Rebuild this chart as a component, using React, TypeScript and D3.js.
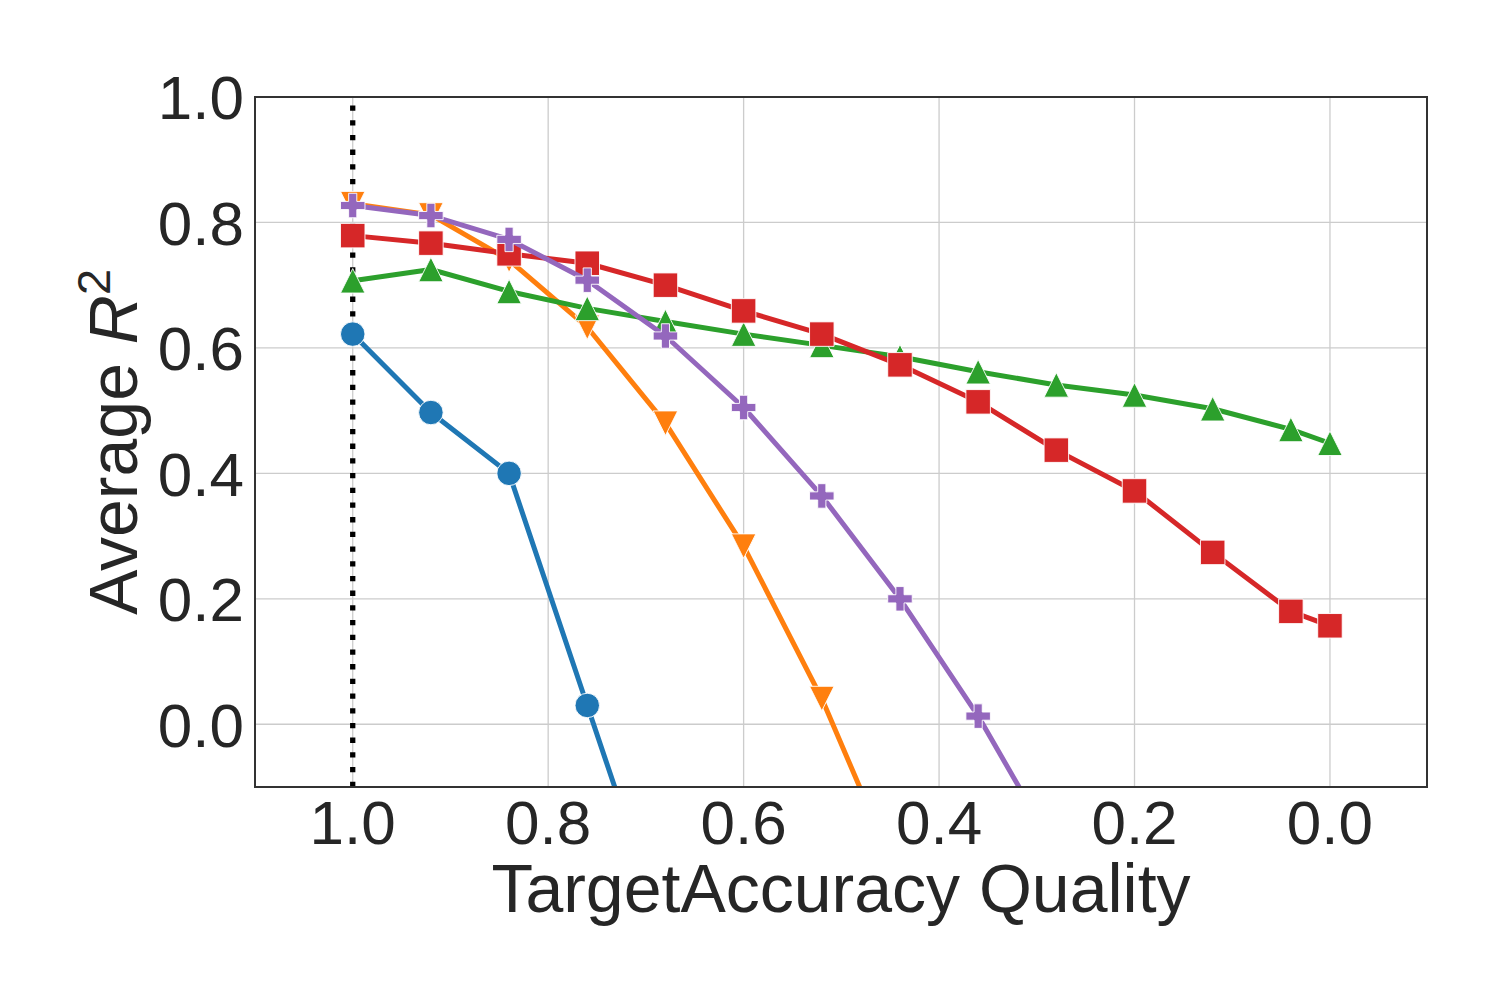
import React from "react";
import * as d3 from "d3";

const xValues = [1.0, 0.92, 0.84, 0.76, 0.68, 0.6, 0.52, 0.44, 0.36, 0.28, 0.2, 0.12, 0.04, 0.0];
const blueValues = [0.622, 0.497, 0.4, 0.03, -0.34];
const orangeValues = [0.83, 0.812, 0.74, 0.633, 0.48, 0.284, 0.041, -0.25];
const greenValues = [0.707, 0.725, 0.69, 0.663, 0.642, 0.622, 0.604, 0.586, 0.562, 0.541, 0.525, 0.503, 0.47, 0.448];
const redValues = [0.779, 0.767, 0.75, 0.735, 0.7, 0.659, 0.622, 0.573, 0.514, 0.437, 0.372, 0.274, 0.18, 0.157];
const purpleValues = [0.827, 0.811, 0.773, 0.708, 0.619, 0.505, 0.364, 0.2, 0.013, -0.203];

const xTicks = [1.0, 0.8, 0.6, 0.4, 0.2, 0.0];
const yTicks = [0.0, 0.2, 0.4, 0.6, 0.8, 1.0];
const refLineX = 1.0;

const series = [
  { name: "blue", values: blueValues, color: "#1f77b4", marker: "circle" },
  { name: "orange", values: orangeValues, color: "#ff7f0e", marker: "triangleDown" },
  { name: "green", values: greenValues, color: "#2ca02c", marker: "triangleUp" },
  { name: "red", values: redValues, color: "#d62728", marker: "square" },
  { name: "purple", values: purpleValues, color: "#9467bd", marker: "plus" },
];

const W = 1500;
const H = 1000;
const left = 255;
const right = 1427;
const top = 97;
const bottom = 787;

const FONT = "'Liberation Sans', Arial, Helvetica, sans-serif";
const TEXT = "#262626";

function markerPath(kind: string, s: number): string {
  const h = s / 2;
  switch (kind) {
    case "circle":
      return `M${h},0A${h},${h} 0 1,1 ${-h},0A${h},${h} 0 1,1 ${h},0Z`;
    case "square":
      return `M${-h},${-h}H${h}V${h}H${-h}Z`;
    case "triangleUp":
      return `M0,${-h}L${h},${h}L${-h},${h}Z`;
    case "triangleDown":
      return `M0,${h}L${h},${-h}L${-h},${-h}Z`;
    case "plus": {
      const a = s / 6;
      return `M${-a},${-h}H${a}V${-a}H${h}V${a}H${a}V${h}H${-a}V${a}H${-h}V${-a}H${-a}Z`;
    }
  }
  return "";
}

export default function App() {
  const x = d3.scaleLinear().domain([1.1, -0.0993]).range([left, right]);
  const y = d3.scaleLinear().domain([-0.1, 1.0]).range([bottom, top]);
  const line = d3
    .line<[number, number]>()
    .x((d) => x(d[0]))
    .y((d) => y(d[1]));

  return (
    <svg
      width={W}
      height={H}
      viewBox={`0 0 ${W} ${H}`}
      style={{ position: "absolute", left: 0, top: 0, background: "#fff" }}
    >
      <defs>
        <clipPath id="plotClip">
          <rect x={left} y={top} width={right - left} height={bottom - top} />
        </clipPath>
      </defs>
      <rect x={0} y={0} width={W} height={H} fill="#fff" />
      {/* grid */}
      <g stroke="#cccccc" strokeWidth={1.3}>
        {xTicks.map((t) => (
          <line key={"gx" + t} x1={x(t)} x2={x(t)} y1={top} y2={bottom} />
        ))}
        {yTicks.map((t) => (
          <line key={"gy" + t} x1={left} x2={right} y1={y(t)} y2={y(t)} />
        ))}
      </g>
      {/* reference dotted line */}
      <line
        x1={x(refLineX)}
        x2={x(refLineX)}
        y1={bottom}
        y2={top}
        stroke="#000"
        strokeWidth={5.3}
        strokeDasharray="5.3 9.4"
        clipPath="url(#plotClip)"
      />
      {/* series */}
      <g clipPath="url(#plotClip)">
        {series.map((s) => {
          const pts: [number, number][] = s.values.map((v, i) => [xValues[i], v]);
          return (
            <g key={s.name}>
              <path
                d={line(pts) || ""}
                fill="none"
                stroke={s.color}
                strokeWidth={5}
                strokeLinejoin="round"
                strokeLinecap="round"
              />
              {pts.map((p, i) => (
                <path
                  key={i}
                  d={markerPath(s.marker, 24.5)}
                  transform={`translate(${x(p[0])},${y(p[1])})`}
                  fill={s.color}
                  stroke="#ffffff"
                  strokeWidth={0.9}
                />
              ))}
            </g>
          );
        })}
      </g>
      {/* frame */}
      <rect
        x={left}
        y={top}
        width={right - left}
        height={bottom - top}
        fill="none"
        stroke="#333333"
        strokeWidth={2}
      />
      {/* x tick labels */}
      <g fontFamily={FONT} fontSize={62} fill={TEXT} textAnchor="middle">
        {xTicks.map((t) => (
          <text key={"xt" + t} x={x(t)} y={844}>
            {d3.format(".1f")(t)}
          </text>
        ))}
      </g>
      {/* y tick labels */}
      <g fontFamily={FONT} fontSize={62} fill={TEXT} textAnchor="end">
        {yTicks.map((t) => (
          <text key={"yt" + t} x={244} y={y(t)} dy="0.36em">
            {d3.format(".1f")(t)}
          </text>
        ))}
      </g>
      {/* x label */}
      <text
        x={(left + right) / 2}
        y={912}
        fontFamily={FONT}
        fontSize={68}
        fill={TEXT}
        textAnchor="middle"
      >
        TargetAccuracy Quality
      </text>
      {/* y label */}
      <text
        transform={`translate(137,${(top + bottom) / 2}) rotate(-90)`}
        fontFamily={FONT}
        fontSize={68}
        fill={TEXT}
        textAnchor="middle"
      >
        Average{" "}
        <tspan fontStyle="italic">R</tspan>
        <tspan fontSize={47} dy={-27}>
          2
        </tspan>
      </text>
    </svg>
  );
}
